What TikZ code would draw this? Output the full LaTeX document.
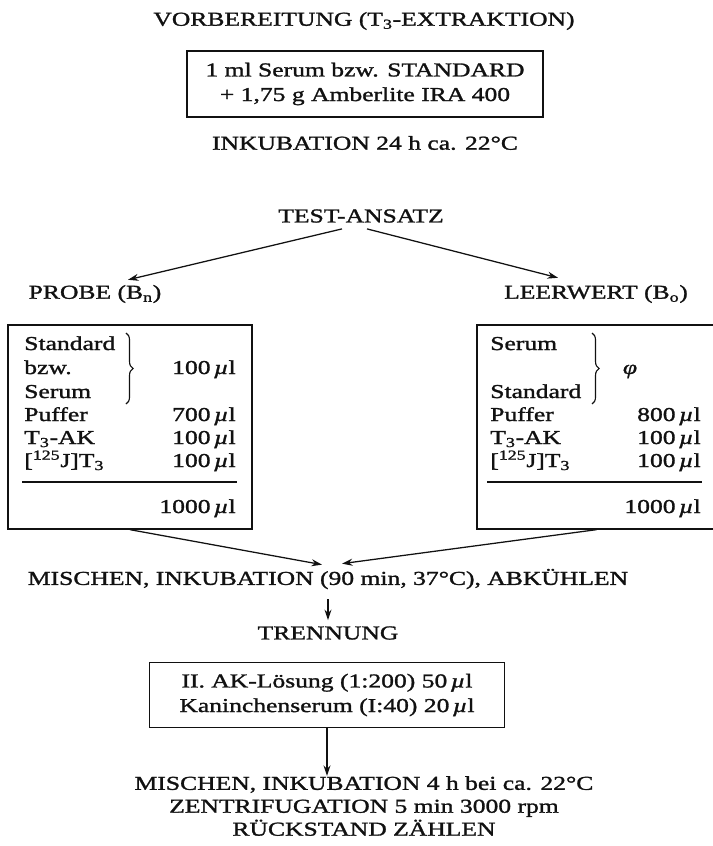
\documentclass[tikz,border=0pt]{standalone}
\usepackage{fontspec}
\setmainfont[FakeStretch=1.3,FakeBold=1.4]{Liberation Serif}
\usetikzlibrary{arrows.meta,decorations.pathreplacing,calc}
\definecolor{RIAInk}{HTML}{111111}
\newcommand\RIAfont{\fontsize{14pt}{17.5pt}\selectfont}
\newcommand\mul{\,\textit{µ}l}
\newcommand\Tdrei{T\textsubscript{3}}
\newcommand\Jod{[\textsuperscript{125}J]T\textsubscript{3}}

\begin{document}
\begin{tikzpicture}[x=0.025cm,y=-0.025cm,
  every node/.style={font=\RIAfont,text=RIAInk,inner sep=0pt},
  stepbox/.style={draw=RIAInk,line width=0.9pt,align=center},
  flow/.style={draw=RIAInk,line width=0.9pt,-{Stealth[length=7.5pt,width=5pt]}},
  curly/.style={draw=RIAInk,line width=0.8pt,decorate,decoration={brace,amplitude=5pt}}]
\path[use as bounding box] (0,0) rectangle (712,846);
% Vorbereitung
\node (titel) at (364,21) {VORBEREITUNG (\Tdrei-EXTRAKTION)};
\node[stepbox,minimum width=8.9cm,minimum height=1.65cm] (extr) at (365,84) {1 ml Serum bzw. STANDARD\\+ 1,75 g Amberlite IRA 400};
\node (inkub) at (365,143) {INKUBATION 24 h ca. 22°C};
% Test-Ansatz
\node (test) at (361,216) {TEST-ANSATZ};
\node (probe) at (95,294) {PROBE (B\textsubscript{n})};
\node (leer) at (596,294) {LEERWERT (B\textsubscript{o})};
\draw[flow] ($(test.south)+(-19,6)$) -- ($(probe.north)+(33,-5)$);
\draw[flow] ($(test.south)+(6,6)$) -- ($(leer.north)+(-38,-7)$);
% Probe
\node[stepbox,minimum width=6.1cm,minimum height=5.1cm] (pbox) at (130,427) {};
\node[anchor=base west] (pStd) at (24,350) {Standard};
\node[anchor=base west] (pBzw) at (24,374) {bzw.};
\node[anchor=base west] (pSer) at (24,398) {Serum};
\node[anchor=base east] (pV1) at (236,374) {100\mul};
\node[anchor=base west] (pPuf) at (24,421) {Puffer};
\node[anchor=base east] (pV2) at (236,421) {700\mul};
\node[anchor=base west] (pAK) at (24,444) {\Tdrei-AK};
\node[anchor=base east] (pV3) at (236,444) {100\mul};
\node[anchor=base west] (pJod) at (24,467) {\Jod};
\node[anchor=base east] (pV4) at (236,467) {100\mul};
\node[anchor=base east] (pSum) at (236,513) {1000\mul};
\draw[RIAInk,line width=0.8pt] (22,482) -- (237,482);
\draw[curly] (126,333) -- (126,404);
% Leerwert
\node[stepbox,minimum width=5.975cm,minimum height=5.1cm] (lbox) at (596.5,427) {};
\node[anchor=base west] (lSer) at (490,350) {Serum};
\node[anchor=base west] (lStd) at (490,398) {Standard};
\node[anchor=base] (lV1) at (630,374) {\textit{φ}};
\node[anchor=base west] (lPuf) at (490,421) {Puffer};
\node[anchor=base east] (lV2) at (701,421) {800\mul};
\node[anchor=base west] (lAK) at (490,444) {\Tdrei-AK};
\node[anchor=base east] (lV3) at (701,444) {100\mul};
\node[anchor=base west] (lJod) at (490,467) {\Jod};
\node[anchor=base east] (lV4) at (701,467) {100\mul};
\node[anchor=base east] (lSum) at (701,513) {1000\mul};
\draw[RIAInk,line width=0.8pt] (487,482) -- (702,482);
\draw[curly] (592,333) -- (592,404);
% Inkubation und Trennung
\node (misch) at (328,579) {MISCHEN, INKUBATION (90 min, 37°C), ABKÜHLEN};
\draw[flow] (pbox.south) -- ($(misch.north)+(-6,-4)$);
\draw[flow] (lbox.south) -- ($(misch.north)+(14,-5)$);
\node (trenn) at (328,633) {TRENNUNG};
\draw[flow] ($(misch.south)+(0,10)$) -- ($(trenn.north)+(0,-6)$);
\node[stepbox,minimum width=8.875cm,minimum height=1.625cm] (akbox) at (327,695) {II. AK-Lösung (1:200) 50\mul\\Kaninchenserum (I:40) 20\mul};
\node[align=center,font={\fontsize{14pt}{16.3pt}\selectfont}] (final) at (364,806) {MISCHEN, INKUBATION 4 h bei ca. 22°C\\ZENTRIFUGATION 5 min 3000 rpm\\RÜCKSTAND ZÄHLEN};
\draw[flow] (akbox.south) -- (akbox.south |- final.north);
\end{tikzpicture}
\end{document}
